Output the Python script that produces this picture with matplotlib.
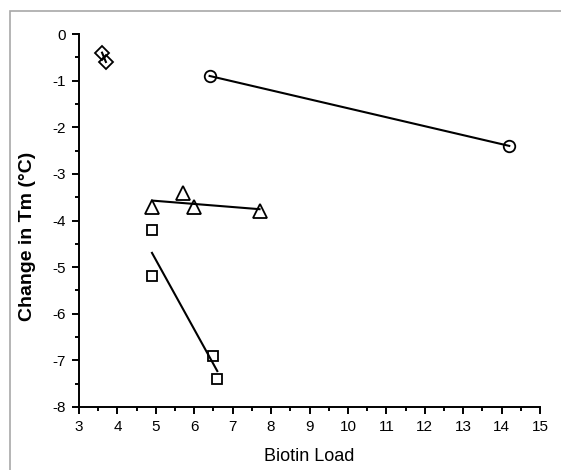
import numpy as np
import matplotlib
matplotlib.use("Agg")
import matplotlib.pyplot as plt
from matplotlib.patches import Rectangle
from matplotlib.ticker import MultipleLocator

plt.rcParams['font.family'] = ['Liberation Sans', 'DejaVu Sans']
plt.rcParams['axes.unicode_minus'] = False

diamond_x = [3.6, 3.7]
diamond_y = [-0.4, -0.6]
circle_x = [6.4, 14.2]
circle_y = [-0.9, -2.4]
triangle_x = [4.9, 5.7, 6.0, 7.7]
triangle_y = [-3.7, -3.4, -3.7, -3.8]
square_x = [4.9, 4.9, 6.5, 6.6]
square_y = [-4.2, -5.2, -6.9, -7.4]

fig = plt.figure(figsize=(5.61, 4.70), dpi=100)
fig.patches.append(Rectangle((10/561, -0.05), 1.1, 1 - 11/470 + 0.05, transform=fig.transFigure,
                             fill=False, edgecolor='#a8a8a8', linewidth=1.2))
ax = fig.add_axes([79/561, 1 - 407/470, (540 - 79)/561, (407 - 34)/470])

mk = dict(markerfacecolor='none', markeredgecolor='black', markeredgewidth=1.3, linestyle='none', zorder=3)

for xs, ys, m, ms in [(diamond_x, diamond_y, 'D', 7.5), (circle_x, circle_y, 'o', 8.3),
                      (triangle_x, triangle_y, '^', 10), (square_x, square_y, 's', 7.5)]:
    xs = np.asarray(xs); ys = np.asarray(ys)
    k, b = np.polyfit(xs, ys, 1)
    xl = np.array([xs.min(), xs.max()])
    ax.plot(xl, k * xl + b, color='black', linewidth=1.5, zorder=2)
    ax.plot(xs, ys, marker=m, markersize=ms, **mk)

ax.set_xlim(3, 15)
ax.set_ylim(-8, 0)
ax.xaxis.set_major_locator(MultipleLocator(1))
ax.xaxis.set_minor_locator(MultipleLocator(0.5))
ax.yaxis.set_major_locator(MultipleLocator(1))
ax.yaxis.set_minor_locator(MultipleLocator(0.5))
for s in ['top', 'right']:
    ax.spines[s].set_visible(False)
for s in ['left', 'bottom']:
    ax.spines[s].set_linewidth(1.4)
ax.tick_params(which='major', direction='out', length=5, width=1.4, labelsize=11, pad=4.5)
ax.tick_params(which='minor', direction='out', length=3, width=1.4)
ax.set_xlabel('Biotin Load', fontsize=13, labelpad=10)
ax.set_ylabel('Change in Tm (°C)', fontsize=14, fontweight='bold')
ax.yaxis.set_label_coords(-0.093, 0.458)

fig.savefig('out.png', dpi=100)
